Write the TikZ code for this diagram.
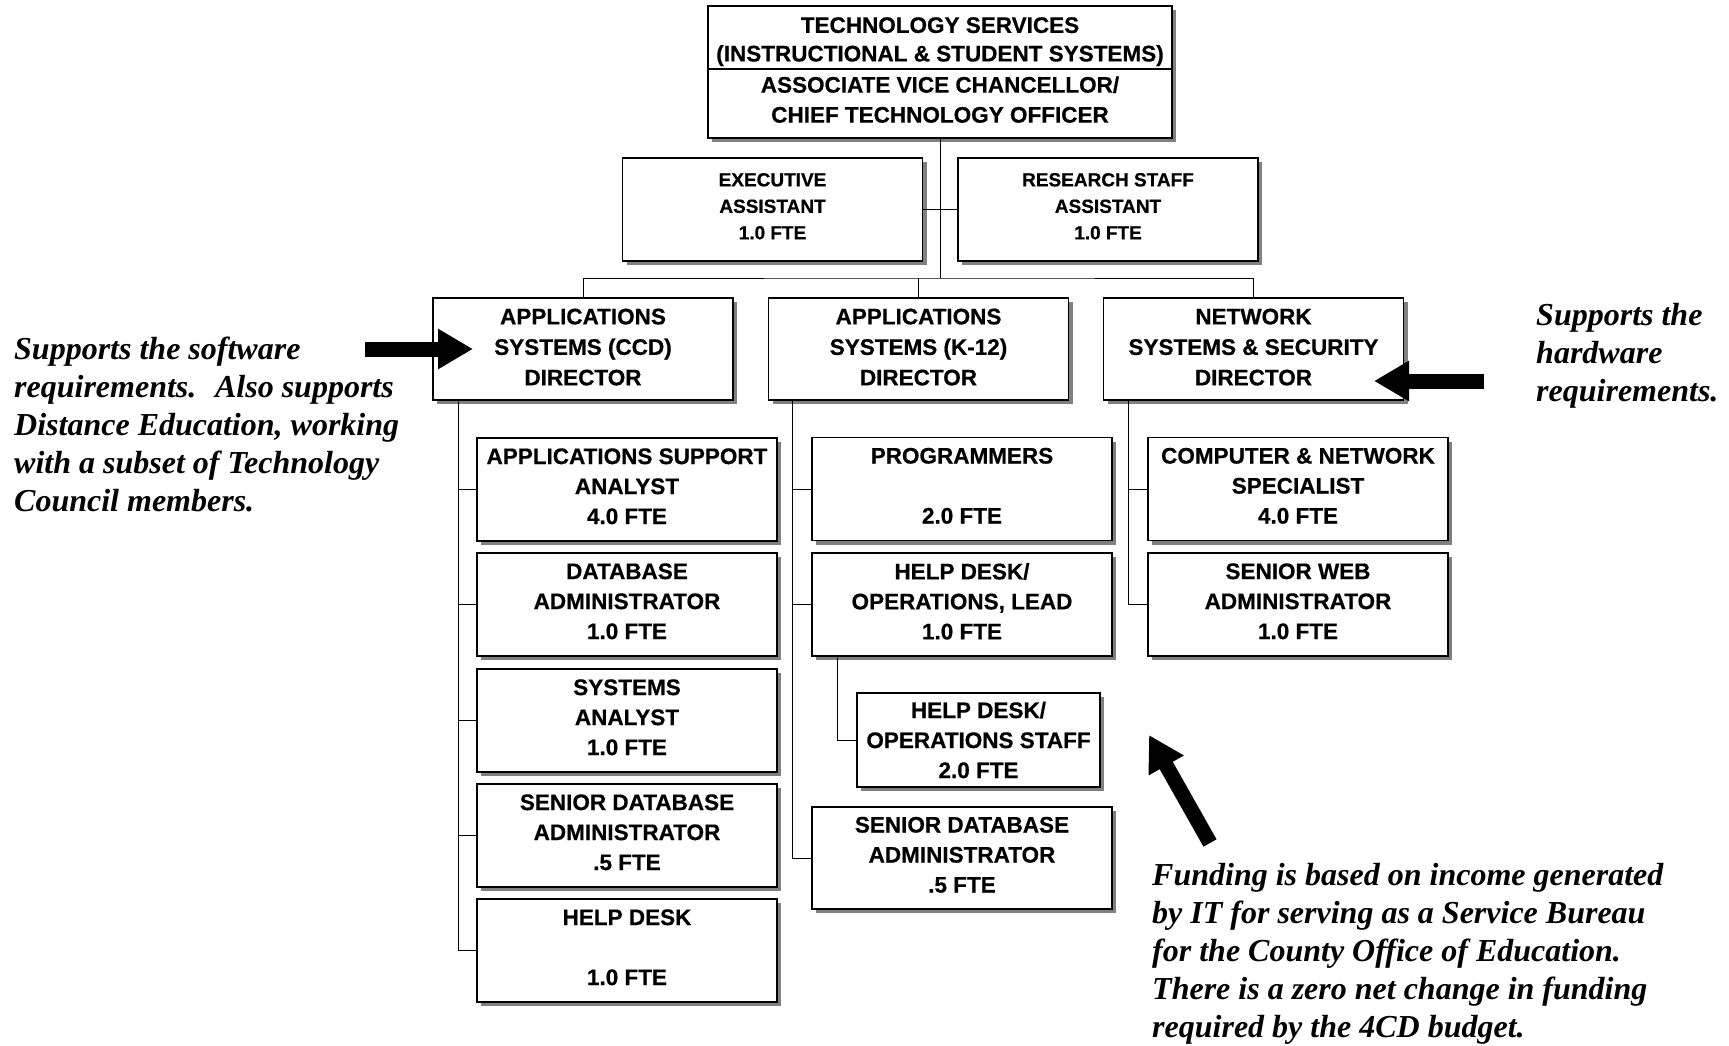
\documentclass[tikz,border=0pt]{standalone}
\usepackage{fontspec}
\setmainfont{Liberation Serif}
\newfontfamily\orgfont{Liberation Sans}[BoldFeatures={FakeBold=0.6}]
\usetikzlibrary{arrows.meta,shadows}

% extra depth under the last line of a box, lifting its text a little
\newcommand{\liftby}[1]{\rule[-#1]{0pt}{#1}}

\begin{document}
\begin{tikzpicture}[x=1pt,y=-1pt,
  box/.style={draw=black, line width=1.2pt, fill=white, rectangle, inner sep=0pt, align=center,
    drop shadow={shadow xshift=4pt, shadow yshift=-4pt, fill=black!50, opacity=1},
    font=\orgfont\bfseries\fontsize{22.5}{30}\selectfont},
  unit/.style={box, minimum width=300pt, minimum height=103pt, execute at end node={\liftby{6.6pt}}},
  director/.style={box, minimum width=300pt, minimum height=102pt, font=\orgfont\bfseries\fontsize{22.5}{30.5}\selectfont,
    execute at end node={\liftby{4pt}}},
  aide/.style={box, minimum width=300pt, minimum height=103pt, font=\orgfont\bfseries\fontsize{19}{26.5}\selectfont,
    execute at end node={\liftby{6.6pt}}},
  link/.style={draw=black, line width=0.9pt},
  note/.style={font=\rmfamily\bfseries\itshape\fontsize{32}{38}\selectfont, align=left, inner sep=0pt, anchor=north west},
  pointer/.style={line width=15pt, -{Triangle[length=35pt,width=38pt]}}
]
\useasboundingbox (0,0) rectangle (1729,1046);

% head of the department
\node[box, minimum width=464pt, minimum height=63pt, font=\orgfont\bfseries\fontsize{22.5}{28.5}\selectfont] (ts) at (940,37.5)
  {\rule{0pt}{24pt}TECHNOLOGY SERVICES\\(INSTRUCTIONAL \& STUDENT SYSTEMS)};
\node[box, minimum width=464pt, minimum height=69pt, font=\orgfont\bfseries\fontsize{22.5}{30}\selectfont] (avc) at (940,103.5)
  {ASSOCIATE VICE CHANCELLOR/\\CHIEF TECHNOLOGY OFFICER\liftby{8pt}};

% staff assistants
\node[aide] (exec) at (772.5,209.5) {EXECUTIVE\\ASSISTANT\\1.0 FTE};
\node[aide] (rsa) at (1108,209.5) {RESEARCH STAFF\\ASSISTANT\\1.0 FTE};

% directors
\node[director] (ccd) at (583,349) {APPLICATIONS\\SYSTEMS (CCD)\\DIRECTOR};
\node[director] (k12) at (918.5,349) {APPLICATIONS\\SYSTEMS (K-12)\\DIRECTOR};
\node[director] (net) at (1253.5,349) {NETWORK\\SYSTEMS \& SECURITY\\DIRECTOR};

% applications systems (CCD) staff
\node[unit] (asa) at (627,489.5) {APPLICATIONS SUPPORT\\ANALYST\\4.0 FTE};
\node[unit] (dba) at (627,604.5) {DATABASE\\ADMINISTRATOR\\1.0 FTE};
\node[unit] (sa)  at (627,720.5) {SYSTEMS\\ANALYST\\1.0 FTE};
\node[unit] (sdb) at (627,835.5) {SENIOR DATABASE\\ADMINISTRATOR\\.5 FTE};
\node[unit] (hd)  at (627,950.5) {HELP DESK\\\mbox{}\\1.0 FTE};

% applications systems (K-12) staff
\node[unit] (prog) at (962,489) {PROGRAMMERS\\\mbox{}\\2.0 FTE};
\node[unit] (hdl)  at (962,604.5) {HELP DESK/\\OPERATIONS, LEAD\\1.0 FTE};
\node[box, minimum width=243pt, minimum height=94pt, font=\orgfont\bfseries\fontsize{22.5}{30}\selectfont] (hds) at (978.5,740)
  {HELP DESK/\\OPERATIONS STAFF\\2.0 FTE};
\node[unit, minimum height=102pt, execute at end node={\liftby{5pt}}] (sdb2) at (962,858) {SENIOR DATABASE\\ADMINISTRATOR\\.5 FTE};

% network systems staff
\node[unit] (cns) at (1298,489) {COMPUTER \& NETWORK\\SPECIALIST\\4.0 FTE};
\node[unit] (swa) at (1298,604.5) {SENIOR WEB\\ADMINISTRATOR\\1.0 FTE};

% reporting lines
\coordinate (bus) at (940,278);
\draw[link] (avc.south) -- (bus);
\draw[link] (exec.east) -- (rsa.west);
\draw[link] (ccd.north) |- (bus) -| (net.north);
\draw[link] (k12.north) -- (k12.north |- bus);

\coordinate (sp1) at ([xshift=26pt]ccd.south west);
\draw[link] (sp1) |- (hd.west);
\foreach \n in {asa,dba,sa,sdb} \draw[link] (sp1 |- \n.west) -- (\n.west);

\coordinate (sp2) at ([xshift=25pt]k12.south west);
\draw[link] (sp2) |- (sdb2.west);
\foreach \n in {prog,hdl} \draw[link] (sp2 |- \n.west) -- (\n.west);

\coordinate (sp3) at ([xshift=26pt]hdl.south west);
\draw[link] (sp3) |- (hds.west);

\coordinate (sp4) at ([xshift=26pt]net.south west);
\draw[link] (sp4) |- (swa.west);
\draw[link] (sp4 |- cns.west) -- (cns.west);

% remarks and their pointers
\node[note] (swnote) at (14,336.5) {Supports the software\\requirements.~ Also supports\\Distance Education, working\\with a subset of Technology\\Council members.};
\node[note] (hwnote) at (1536,303.5) {Supports the\\hardware\\requirements.};
\node[note] (fundnote) at (1152,863) {Funding is based on income generated\\by IT for serving as a Service Bureau\\for the County Office of Education.\\There is a zero net change in funding\\required by the 4CD budget.};

\coordinate (swtail) at (365,349);
\coordinate (swtip) at (473,349);
\draw[pointer] (swtail) -- (swtip);
\coordinate (hwtail) at (1484,381);
\coordinate (hwtip) at (1374,381);
\draw[pointer] (hwtail) -- (hwtip);
\coordinate (fdtail) at (1210,843);
\coordinate (fdtip) at (1149,735);
\draw[pointer] (fdtail) -- (fdtip);
\end{tikzpicture}
\end{document}
